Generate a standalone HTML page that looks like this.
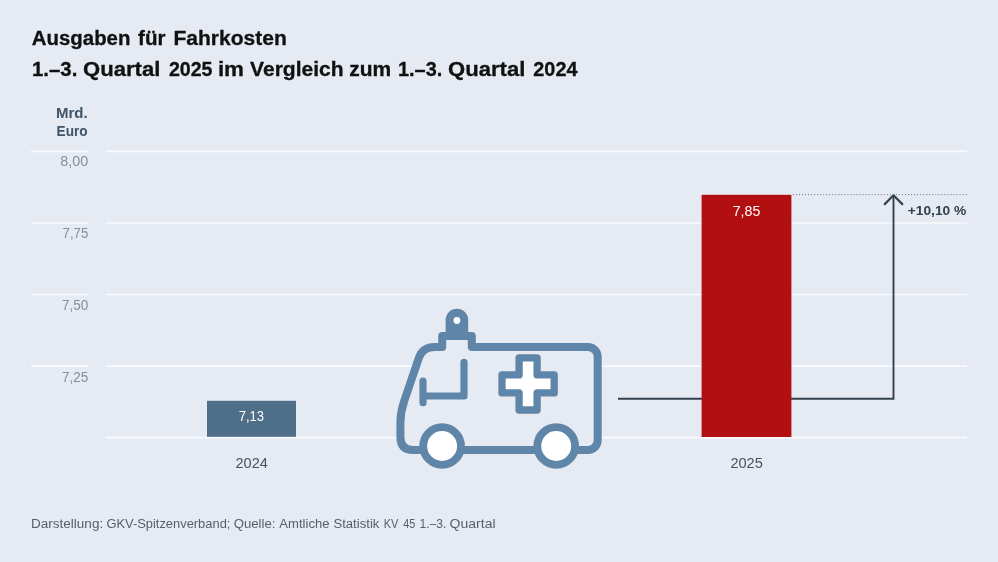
<!DOCTYPE html>
<html lang="de">
<head>
<meta charset="utf-8">
<title>Ausgaben für Fahrkosten</title>
<style>
html,body{margin:0;padding:0;background:#e6eaf2;}
body{width:998px;height:562px;overflow:hidden;}
svg{display:block;}
text{font-family:"Liberation Sans",sans-serif;}
.title{font-weight:bold;font-size:20px;fill:#111;stroke:#111;stroke-width:0.3px;}
.unit{font-weight:bold;font-size:14.5px;fill:#3f5468;}
.tick{font-size:14.6px;fill:#868e97;}
.cat{font-size:14.6px;fill:#47525d;}
.val{font-size:14.6px;fill:#ffffff;}
.pct{font-weight:bold;font-size:13.4px;fill:#33414f;}
.foot{font-size:12.5px;fill:#566069;}
</style>
</head>
<body>
<svg width="998" height="562" viewBox="0 0 998 562">
<rect x="0" y="0" width="998" height="562" fill="#e6eaf2"/>

<!-- grid -->
<g stroke="#f8fafd" stroke-width="1.7">
<line x1="31" y1="151.3" x2="88" y2="151.3"/><line x1="105.5" y1="151.3" x2="967" y2="151.3"/>
<line x1="31" y1="223" x2="88" y2="223"/><line x1="105.5" y1="223" x2="967" y2="223"/>
<line x1="31" y1="294.5" x2="88" y2="294.5"/><line x1="105.5" y1="294.5" x2="967" y2="294.5"/>
<line x1="31" y1="366.1" x2="88" y2="366.1"/><line x1="105.5" y1="366.1" x2="967" y2="366.1"/>
<line x1="105.5" y1="437.7" x2="967" y2="437.7"/>
</g>

<!-- arrow -->
<path d="M618,398.8 H893.5 V195.8" fill="none" stroke="#33414f" stroke-width="1.9"/>
<path d="M884.7,204.1 L893.5,195.3 L902.3,204.1" fill="none" stroke="#33414f" stroke-width="2.2" stroke-linecap="round" stroke-linejoin="miter"/>

<!-- bars -->
<rect x="207" y="400.8" width="89" height="36" fill="#4f6e88"/>
<rect x="701.6" y="194.8" width="89.8" height="242.2" fill="#b20f11"/>
<line x1="792.9" y1="194.6" x2="967" y2="194.6" stroke="#6b737c" stroke-width="1" stroke-dasharray="1 2.03"/>

<!-- ambulance -->
<g fill="none" stroke="#5f86a9" stroke-linecap="round" stroke-linejoin="round">
<path d="M442.2,347 H434.5 Q422.7,347 418.9,357.9 L404.2,401 Q400.4,412 400.4,423 V436.9 Q400.4,450 413.5,450 H588 A9.7,9.7 0 0 0 597.7,440.3 V356.7 A9.7,9.7 0 0 0 588,347 H471.8 V336 H442.2 Z" fill="#e6eaf2" stroke-width="8"/>
<path d="M445.6,337 V320 A11.3,11.3 0 0 1 468.2,320 V337 Z" fill="#5f86a9" stroke="none"/>
<circle cx="456.9" cy="320.5" r="3.4" fill="#fff" stroke="none"/>
<path d="M423,381 V402.7 M423,396 H464 V362.3" stroke-width="7.2"/>
<path d="M519.1,357.8 H537.1 V374.9 H554.2 V392.9 H537.1 V410 H519.1 V392.9 H502 V374.9 H519.1 Z" fill="#fff" stroke-width="7.3"/>
<circle cx="442.1" cy="446" r="18.9" fill="#fff" stroke-width="7.8"/>
<circle cx="556.2" cy="446" r="18.9" fill="#fff" stroke-width="7.8"/>
</g>

<!-- text -->
<text class="title" y="45"><tspan x="31.8" textLength="98.6" lengthAdjust="spacingAndGlyphs">Ausgaben</tspan> <tspan x="138.1" textLength="27.4" lengthAdjust="spacingAndGlyphs">für</tspan> <tspan x="173.5" textLength="113.3" lengthAdjust="spacingAndGlyphs">Fahrkosten</tspan></text>
<text class="title" y="76"><tspan x="32.0" textLength="45.3" lengthAdjust="spacingAndGlyphs">1.–3.</tspan> <tspan x="83.1" textLength="77.2" lengthAdjust="spacingAndGlyphs">Quartal</tspan> <tspan x="168.9" textLength="43.6" lengthAdjust="spacingAndGlyphs">2025</tspan> <tspan x="217.9" textLength="26.1" lengthAdjust="spacingAndGlyphs">im</tspan> <tspan x="250.1" textLength="93.5" lengthAdjust="spacingAndGlyphs">Vergleich</tspan> <tspan x="349.3" textLength="41.9" lengthAdjust="spacingAndGlyphs">zum</tspan> <tspan x="398.0" textLength="44.2" lengthAdjust="spacingAndGlyphs">1.–3.</tspan> <tspan x="448.1" textLength="77.2" lengthAdjust="spacingAndGlyphs">Quartal</tspan> <tspan x="533.3" textLength="44.2" lengthAdjust="spacingAndGlyphs">2024</tspan></text>
<text class="unit" y="118"><tspan x="56.0" textLength="31.7" lengthAdjust="spacingAndGlyphs">Mrd.</tspan></text>
<text class="unit" y="136"><tspan x="56.6" textLength="31.0" lengthAdjust="spacingAndGlyphs">Euro</tspan></text>
<text class="tick" y="166"><tspan x="60.3" textLength="27.9" lengthAdjust="spacingAndGlyphs">8,00</tspan></text>
<text class="tick" y="238"><tspan x="62.6" textLength="25.7" lengthAdjust="spacingAndGlyphs">7,75</tspan></text>
<text class="tick" y="310"><tspan x="62.0" textLength="26.3" lengthAdjust="spacingAndGlyphs">7,50</tspan></text>
<text class="tick" y="382"><tspan x="62.0" textLength="26.3" lengthAdjust="spacingAndGlyphs">7,25</tspan></text>
<text class="val" y="421"><tspan x="238.7" textLength="25.4" lengthAdjust="spacingAndGlyphs">7,13</tspan></text>
<text class="val" y="216.0"><tspan x="732.7" textLength="27.6" lengthAdjust="spacingAndGlyphs">7,85</tspan></text>
<text class="cat" y="468"><tspan x="235.5" textLength="32.3" lengthAdjust="spacingAndGlyphs">2024</tspan></text>
<text class="cat" y="468"><tspan x="730.4" textLength="32.4" lengthAdjust="spacingAndGlyphs">2025</tspan></text>
<text class="pct" y="215"><tspan x="907.7" textLength="58.6" lengthAdjust="spacingAndGlyphs">+10,10 %</tspan></text>
<text class="foot" y="528"><tspan x="30.9" textLength="72.3" lengthAdjust="spacingAndGlyphs">Darstellung:</tspan> <tspan x="106.4" textLength="124.0" lengthAdjust="spacingAndGlyphs">GKV-Spitzenverband;</tspan> <tspan x="233.7" textLength="41.8" lengthAdjust="spacingAndGlyphs">Quelle:</tspan> <tspan x="279.3" textLength="50.2" lengthAdjust="spacingAndGlyphs">Amtliche</tspan> <tspan x="333.4" textLength="46.0" lengthAdjust="spacingAndGlyphs">Statistik</tspan> <tspan x="383.8" textLength="14.6" lengthAdjust="spacingAndGlyphs">KV</tspan> <tspan x="403.3" textLength="12.0" lengthAdjust="spacingAndGlyphs">45</tspan> <tspan x="419.6" textLength="26.8" lengthAdjust="spacingAndGlyphs">1.–3.</tspan> <tspan x="449.6" textLength="46.0" lengthAdjust="spacingAndGlyphs">Quartal</tspan></text>
</svg>
</body>
</html>
